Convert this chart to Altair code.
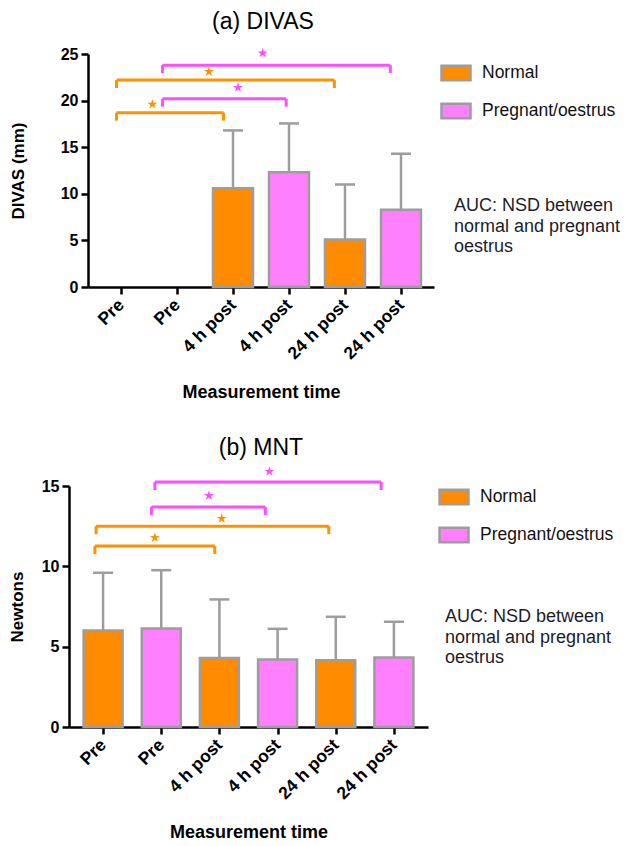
import json
import altair as alt
import pandas as pd

# ---------------- data ----------------
tick_labels = ["Pre", "Pre", "4 h post", "4 h post", "24 h post", "24 h post"]
positions = [1, 2, 3, 4, 5, 6]
groups = ["Normal", "Pregnant/oestrus", "Normal", "Pregnant/oestrus", "Normal", "Pregnant/oestrus"]
group_names = ["Normal", "Pregnant/oestrus"]

divas_mean = [0, 0, 10.6, 12.3, 5.1, 8.3]
divas_upper = [0, 0, 16.8, 17.55, 11.0, 14.3]
mnt_mean = [6.0, 6.13, 4.3, 4.2, 4.15, 4.32]
mnt_upper = [9.6, 9.76, 7.94, 6.11, 6.86, 6.55]

divas_br_start = [0.92, 1.74, 0.92, 1.74]
divas_br_end = [2.83, 3.95, 4.81, 5.81]
divas_br_y = [18.7, 20.2, 22.2, 23.8]
divas_br_group = ["Normal", "Pregnant/oestrus", "Normal", "Pregnant/oestrus"]
divas_star_x = [1.56, 3.09, 2.57, 3.53]
divas_star_y = [19.6, 21.4, 23.1, 25.1]

mnt_br_start = [0.86, 0.88, 1.83, 1.89]
mnt_br_end = [2.92, 4.88, 3.79, 5.78]
mnt_br_y = [11.26, 12.5, 13.7, 15.25]
mnt_br_group = ["Normal", "Normal", "Pregnant/oestrus", "Pregnant/oestrus"]
mnt_star_x = [1.89, 3.04, 2.82, 3.86]
mnt_star_y = [11.78, 12.97, 14.4, 15.9]

note_lines = ["AUC: NSD between", "normal and pregnant", "oestrus"]

# ---------------- style ----------------
ORANGE = "#ff8c00"
PINK = "#ff80ff"
BR_ORANGE = "#ff9200"
BR_PINK = "#ff4dff"
GREY = "#9d9d9d"
FONT = "Liberation Sans"
STAR = ("M0,-1L0.2245,-0.309L0.9511,-0.309L0.3633,0.118L0.5878,0.809L0,0.382"
        "L-0.5878,0.809L-0.3633,0.118L-0.9511,-0.309L-0.2245,-0.309Z")
RECT = "M-1,-0.5H1V0.5H-1Z"

label_expr = f"{json.dumps(tick_labels)}[datum.value - 1]"


def panel(title, title_dx, title_offset, ytitle, ymax, ystep, mean, upper,
          br_start, br_end, br_y, br_group, star_x, star_y,
          width, height, x_start, bar_size, ytitle_pad, drop, legend_x, legend_y,
          note_x, note_y):
    bars_df = pd.DataFrame({"pos": positions, "group": groups,
                            "mean": mean, "upper": upper})
    br_df = pd.DataFrame({"start": br_start, "end": br_end, "y": br_y, "group": br_group})
    st_df = pd.DataFrame({"x": star_x, "y": star_y, "group": br_group})
    note_df = pd.DataFrame({"k": [0]})

    xs = alt.Scale(domain=[0.5, 6.5], nice=False, zero=False, range=[x_start, width])
    ys = alt.Scale(domain=[0, ymax], nice=False)
    xaxis = alt.Axis(values=positions, labelExpr=label_expr, labelAngle=-45,
                     labelAlign="right", labelBaseline="middle",
                     labelFontSize=17.5, labelFontWeight="bold", labelPadding=8,
                     labelOverlap=False, labelBound=False,
                     title="Measurement time", titleFontSize=18,
                     titleFontWeight="bold", titlePadding=21)
    yaxis = alt.Axis(values=list(range(0, ymax + 1, ystep)), title=ytitle,
                     labelFontSize=16, labelFontWeight="bold", labelPadding=3,
                     titleFontSize=17, titleFontWeight="bold",
                     titlePadding=ytitle_pad, offset=-x_start)
    bcolor = alt.Color("group:N", scale=alt.Scale(domain=group_names,
                                                  range=[BR_ORANGE, BR_PINK]),
                       legend=None)

    base = alt.Chart(bars_df).transform_filter("datum.mean > 0")
    err = base.mark_rule(color=GREY, strokeWidth=2.5).encode(
        x=alt.X("pos:Q", scale=xs, axis=xaxis),
        y=alt.Y("mean:Q", scale=ys, axis=yaxis),
        y2="upper:Q")
    cap = base.mark_tick(orient="horizontal", size=20, thickness=2.5,
                         color=GREY, opacity=1).encode(
        x="pos:Q", y="upper:Q")
    bars = base.mark_bar(size=bar_size, stroke=GREY, strokeWidth=2.5,
                         opacity=1).encode(
        x="pos:Q", y="mean:Q",
        color=alt.Color("group:N",
                        scale=alt.Scale(domain=group_names, range=[ORANGE, PINK]),
                        legend=alt.Legend(orient="none", legendX=legend_x,
                                          legendY=legend_y, title=None,
                                          symbolType=RECT, symbolSize=841,
                                          symbolStrokeColor=GREY,
                                          symbolStrokeWidth=2.5,
                                          symbolOpacity=1,
                                          labelFont=FONT, labelFontSize=17.5,
                                          labelColor="#111111",
                                          labelOffset=10, rowPadding=9,
                                          padding=0)))
    brackets = alt.Chart(br_df).mark_rule(strokeWidth=3).encode(
        x="start:Q", x2="end:Q", y="y:Q", color=bcolor)
    ends = alt.Chart(br_df).transform_fold(
        ["start", "end"], as_=["side", "xv"]).transform_calculate(
        lo=f"datum.y - {drop}").mark_rule(strokeWidth=3).encode(
        x="xv:Q", y="y:Q", y2="lo:Q", color=bcolor)
    stars = alt.Chart(st_df).mark_point(shape=STAR, filled=True, size=110,
                                        opacity=1).encode(
        x="x:Q", y="y:Q", color=bcolor)
    note = alt.Chart(note_df).mark_text(
        text=note_lines, align="left", baseline="top", fontSize=18,
        lineHeight=20.5, font=FONT, color="#1c1c2a").encode(
        x=alt.value(note_x), y=alt.value(note_y))

    return alt.layer(err, cap, bars, brackets, ends, stars, note).resolve_scale(
        color="independent").properties(
        width=width, height=height,
        title=alt.TitleParams(title, fontSize=23, fontWeight="normal", font=FONT,
                              anchor="middle", frame="group", dx=title_dx,
                              offset=title_offset, color="#000000"))


top = panel("(a) DIVAS", 11.5, 12, "DIVAS (mm)", 25, 5, divas_mean, divas_upper,
            divas_br_start, divas_br_end, divas_br_y, divas_br_group,
            divas_star_x, divas_star_y,
            365, 233, 19, 40, 33, 0.85, 371, 3, 385, 143)
bottom = panel("(b) MNT", 12.5, 6, "Newtons", 15, 5, mnt_mean, mnt_upper,
               mnt_br_start, mnt_br_end, mnt_br_y, mnt_br_group,
               mnt_star_x, mnt_star_y,
               359, 241, 0, 39, 15, 0.5, 369, -5, 376, 122)

chart = alt.concat(top, bottom, columns=1, spacing=35).properties(
    padding={"top": 3, "left": 0, "right": 0, "bottom": 0}
).configure_view(stroke=None).configure_axis(
    domainColor="#000000", domainWidth=2.5, tickColor="#000000", tickWidth=2.5,
    tickSize=7, labelColor="#000000", titleColor="#000000", grid=False,
    labelFont=FONT, titleFont=FONT
)

chart.save("out.html", embed_options={"renderer": "svg", "actions": False})
